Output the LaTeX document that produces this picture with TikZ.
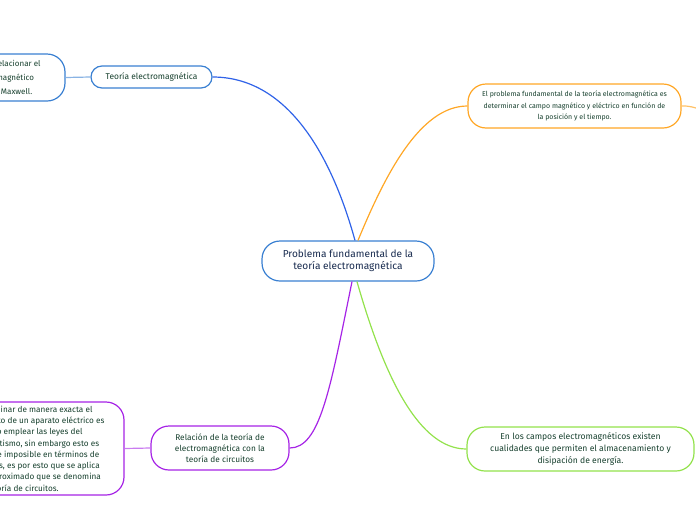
\documentclass[tikz,border=0pt]{standalone}
\usepackage{fontspec}
\setmainfont{Fira Sans}
\usetikzlibrary{calc}
\definecolor{linkblue}{HTML}{2F62E8}
\definecolor{boxblue}{HTML}{3A80D2}
\definecolor{linkorange}{HTML}{FFA726}
\definecolor{linkgreen}{HTML}{93E24C}
\definecolor{linkpurple}{HTML}{A624E6}
\definecolor{inkgreen}{HTML}{17402E}
\definecolor{inknavy}{HTML}{172A4E}
\tikzset{
  topicbox/.style={draw, line width=1.2pt, fill=white, align=center, text=inkgreen, inner sep=0pt, rounded corners=#1},
  topicbox/.default=18pt,
  link/.style={line width=1.2pt}
}

\begin{document}
\begin{tikzpicture}[x=1pt, y=-1pt]
\useasboundingbox (0,0) rectangle (696,520);
\clip (0,0) rectangle (696,520);
% centre
\node[topicbox, draw=boxblue, text=inknavy, minimum width=172pt, minimum height=40pt, font=\fontsize{10.1}{12}\selectfont] (root) at (348,261) {Problema fundamental de la\\teoría electromagnética};
% first level
\node[topicbox=11pt, draw=boxblue, minimum width=121pt, minimum height=22pt, font=\fontsize{8.4}{10}\selectfont] (teoria) at (151.5,77) {Teoría electromagnética};
\node[topicbox, draw=linkorange, minimum width=213pt, minimum height=44pt, font=\fontsize{7}{11.5}\selectfont] (problema) at (574.5,106) {El problema fundamental de la teoría electromagnética es\\determinar el campo magnético y eléctrico en función de\\la posición y el tiempo.};
\node[topicbox, draw=linkgreen, minimum width=227pt, minimum height=44pt, font=\fontsize{8.6}{12}\selectfont] (campos) at (580.5,449) {En los campos electromagnéticos existen\\cualidades que permiten el almacenamiento y\\disipación de energía.};
\node[topicbox, draw=linkpurple, minimum width=138pt, minimum height=44pt, font=\fontsize{8.3}{11}\selectfont] (relacion) at (220,448) {Relación de la teoría de\\electromagnética con la\\teoría de circuitos};
% second level
\node[topicbox, draw=boxblue, minimum width=166pt, minimum height=47pt, font=\fontsize{8}{14}\selectfont] (maxwell) at (-18,77.5) {Esta teoría permite relacionar el\\campo eléctrico y magnético\\con ecuaciones de Maxwell.};
\node[topicbox, draw=linkpurple, minimum width=200pt, minimum height=93pt, font=\fontsize{8.2}{11.3}\selectfont] (circuitos) at (24,448.5) {Para determinar de manera exacta el\\comportamiento de un aparato eléctrico es\\necesario emplear las leyes del\\electromagnetismo, sin embargo esto es\\prácticamente imposible en términos de\\cálculos reales, es por esto que se aplica\\un método aproximado que se denomina\\teoría de circuitos.};
\coordinate (next) at (712,113);
% connectors
\draw[link, linkblue] ([xshift=7pt]root.north) .. controls (330,150) and (285,77) .. (teoria.east);
\draw[link, linkorange] ([xshift=10pt]root.north) .. controls (385,175) and (420,106) .. (problema.west);
\draw[link, linkpurple] ([xshift=4pt]root.south) .. controls (330,390) and (320,448) .. (relacion.east);
\draw[link, linkgreen] ([xshift=9pt]root.south) .. controls (385,380) and (420,449) .. (campos.west);
\draw[link, boxblue!60] (maxwell.east) -- (teoria.west);
\draw[link, linkpurple!60] (circuitos.east) -- (relacion.west);
\draw[link, linkorange!70] (problema.east) .. controls (690,106) .. (next);
\end{tikzpicture}
\end{document}
